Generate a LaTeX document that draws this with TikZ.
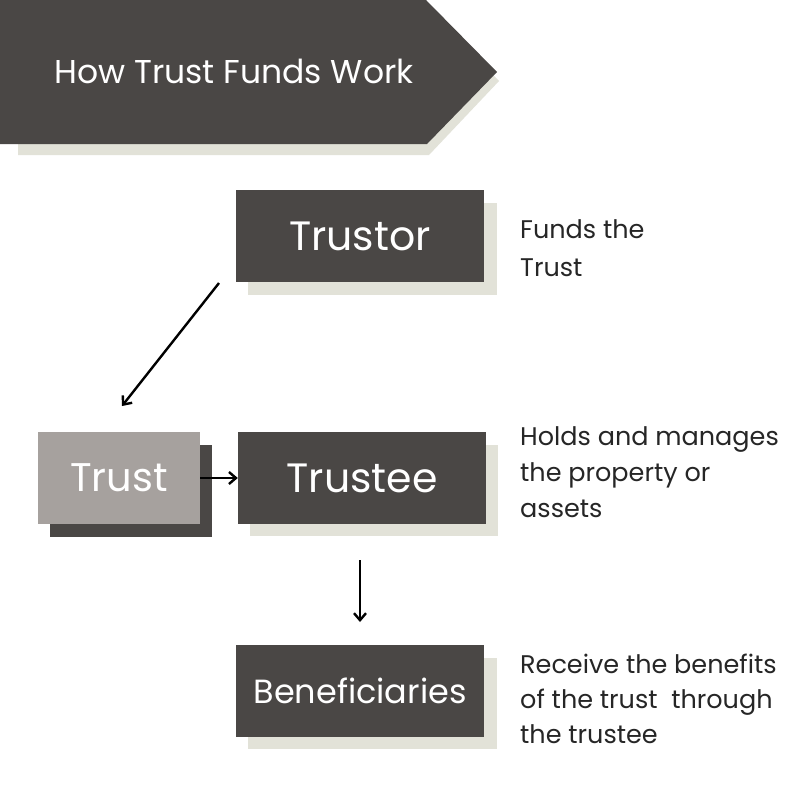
\documentclass[tikz,border=0pt]{standalone}
\usepackage{fontspec}
\setmainfont{Poppins}
\usetikzlibrary{arrows.meta}
\definecolor{darkc}{HTML}{4A4745}
\definecolor{lightc}{HTML}{A6A19E}
\definecolor{shadowc}{HTML}{E2E2D8}
\tikzset{
  boxdark/.style={rectangle, fill=darkc, text=white, minimum width=248pt, minimum height=92pt, inner sep=0pt, font=\fontsize{41}{44}\selectfont},
  boxlight/.style={rectangle, fill=lightc, text=white, minimum width=162pt, minimum height=92pt, inner sep=0pt, font=\fontsize{40}{44}\selectfont},
  desc/.style={anchor=north west, align=left, inner sep=0pt, text=black!85, font=\fontsize{25.5}{36}\selectfont},
  conn/.style={-{Straight Barb[length=7pt,width=12pt,line width=2.4pt]}, line width=2.4pt, black}
}
\begin{document}
\begin{tikzpicture}[x=1pt,y=-1pt]
\useasboundingbox (0,0) rectangle (800,800);
\fill[white] (0,0) rectangle (800,800);
% header
\fill[shadowc] (18,10) -- (430,10) -- (499,81) -- (429,155) -- (18,155) -- cycle;
\fill[darkc] (0,0) -- (426,0) -- (497,72) -- (427,144) -- (0,144) -- cycle;
\node[text=white, font=\fontsize{33}{36}\selectfont, anchor=base] (title) at (234,83) {How Trust Funds Work};
% shadows
\fill[shadowc] (248,203) rectangle (497,295);
\fill[darkc] (50,445) rectangle (212,537);
\fill[shadowc] (250,445) rectangle (498,536);
\fill[shadowc] (248,658) rectangle (497,749);
% boxes
\node[boxdark] (trustor) at (360,236) {Trustor};
\node[boxlight] (trust) at (119,478) {Trust};
\node[boxdark] (trustee) at (362,478) {Trustee};
\node[boxdark, font=\fontsize{33.5}{36}\selectfont] (benef) at (360,691) {Beneficiaries};
% descriptions
\node[desc, font=\fontsize{25.5}{38}\selectfont] (d1) at (520,219) {Funds the\\Trust};
\node[desc] (d2) at (520,426) {Holds and manages\\the property or\\assets};
\node[desc, font=\fontsize{25.5}{35}\selectfont] (d3) at (520,654) {Receive the benefits\\of the trust\ \ through\\the trustee};
% connectors
\coordinate (a1s) at (219,283);
\coordinate (a1e) at (122,406);
\coordinate (a3s) at (360,560);
\coordinate (a3e) at (360,622);
\draw[conn] (a1s) -- (a1e);
\draw[conn] (trust.east) -- (trustee.west);
\draw[conn] (a3s) -- (a3e);
\end{tikzpicture}
\end{document}
